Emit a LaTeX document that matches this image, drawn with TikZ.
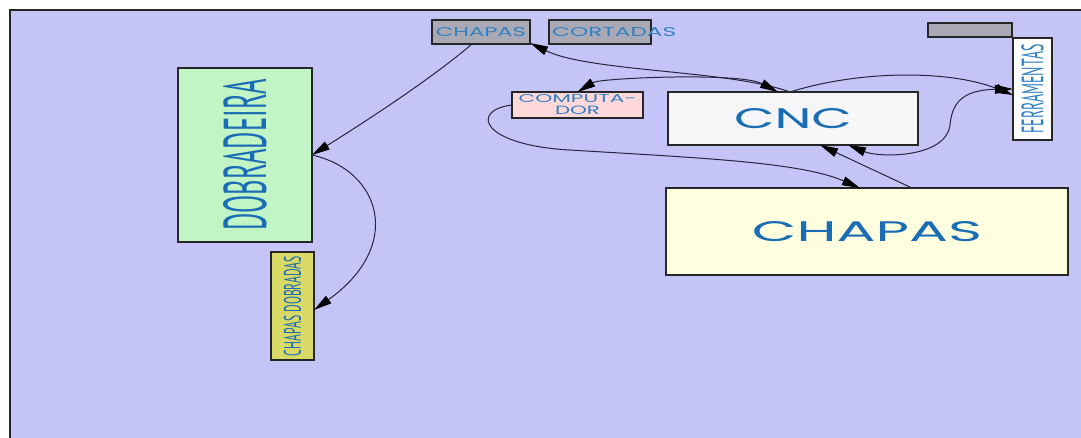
\documentclass[tikz,border=0pt]{standalone}
\usepackage{fontspec}
\setmainfont{Poppins}
\newfontfamily\condfont{PT Sans}
\usetikzlibrary{arrows.meta}
\definecolor{bglav}{HTML}{C4C4F6}
\definecolor{greybox}{HTML}{A9A9B6}
\definecolor{pinkbox}{HTML}{FFD9D9}
\definecolor{cncbox}{HTML}{F6F6F8}
\definecolor{yelbox}{HTML}{FFFFE0}
\definecolor{greenbox}{HTML}{C2F5C6}
\definecolor{dyelbox}{HTML}{D9D965}
\definecolor{txtblue}{HTML}{2F80C4}
\definecolor{bigblue}{HTML}{1A6CB4}
\definecolor{linecol}{HTML}{25253F}
\tikzset{
  boxst/.style={draw=black!85, line width=1.8pt, inner sep=0pt, outer sep=0pt},
  tipst/.tip={Triangle[length=18pt 0, width=9pt 0, color=black, fill=black]},
  conn/.style={draw=linecol, line width=1pt, -tipst},
  bconn/.style={draw=linecol, line width=1pt, tipst-tipst},
}
\begin{document}
\begin{tikzpicture}[x=1pt,y=-1pt]
\useasboundingbox (0,0) rectangle (1081,437);
\fill[bglav] (10,10) rectangle (1090,445);
\draw[black!85, line width=1.8pt] (10,445) -- (10,10) -- (1090,10);

% nodes
\node[boxst, fill=greybox, minimum width=98pt, minimum height=24pt, text=txtblue] (chs) at (481,32)
  {\resizebox{90pt}{9pt}{CHAPAS}};
\node[boxst, fill=greybox, minimum width=102pt, minimum height=24pt] (cort) at (600,32) {};
\node[anchor=west, inner sep=0pt, text=txtblue] (cortt) at ([xshift=3pt]cort.west)
  {\resizebox{124pt}{9pt}{CORTADAS}};
\node[boxst, fill=greybox, minimum width=84pt, minimum height=14pt] (gtr) at (970,30) {};
\node[boxst, fill=white, minimum width=39pt, minimum height=102pt, text=txtblue] (ferr) at (1032.5,89)
  {\rotatebox{90}{\resizebox{89pt}{22pt}{\condfont FERRAMENTAS}}};
\node[boxst, fill=pinkbox, minimum width=131pt, minimum height=26pt, text=txtblue, align=center,
  font=\fontsize{10}{12}\selectfont] (comp) at (577.5,105)
  {\resizebox{118pt}{8pt}{COMPUTA-}\\\resizebox{45pt}{8.5pt}{DOR}};
\node[boxst, fill=cncbox, minimum width=250pt, minimum height=53pt, text=bigblue] (cnc) at (793,118.5)
  {\resizebox{118pt}{20pt}{CNC}};
\node[boxst, fill=yelbox, minimum width=402pt, minimum height=87pt, text=bigblue] (chb) at (867,231.5)
  {\resizebox{230pt}{20pt}{CHAPAS}};
\node[boxst, fill=greenbox, minimum width=134pt, minimum height=174pt, text=bigblue] (dob) at (245,155)
  {\rotatebox{90}{\resizebox{151pt}{43pt}{\condfont DOBRADEIRA}}};
\node[boxst, fill=dyelbox, minimum width=43pt, minimum height=108pt, text=bigblue] (chd) at (292.5,306)
  {\rotatebox{90}{\resizebox{100pt}{17pt}{\condfont CHAPAS DOBRADAS}}};

% connectors
\draw[conn] ([xshift=-9pt]chs.south) .. controls (430,80) and (360,125) .. (dob.east);
\draw[conn] (dob.east) .. controls (380,170) and (405,245) .. ([yshift=-4pt]chd.east);
\draw[conn] ([xshift=-3pt]cnc.north) .. controls (730,70) and (590,72) .. ([yshift=1pt]chs.south east);
\draw[bconn] (comp.north) .. controls (600,78) and (740,72) .. ([xshift=-15pt]cnc.north);
\draw[conn] ([xshift=-3pt]cnc.north) .. controls (860,70) and (950,70) .. ([yshift=-6pt]ferr.west);
\draw[bconn] (ferr.west) .. controls (960,90) and (952,105) .. (950,125)
  .. controls (946,158) and (880,158) .. ([xshift=55pt]cnc.south);
\draw[conn] ([xshift=45pt]chb.north) -- ([xshift=27pt]cnc.south);
\draw[conn] (comp.west) .. controls (470,110) and (480,145) .. (570,150)
  .. controls (700,158) and (800,162) .. ([xshift=-7pt]chb.north);
\end{tikzpicture}
\end{document}
